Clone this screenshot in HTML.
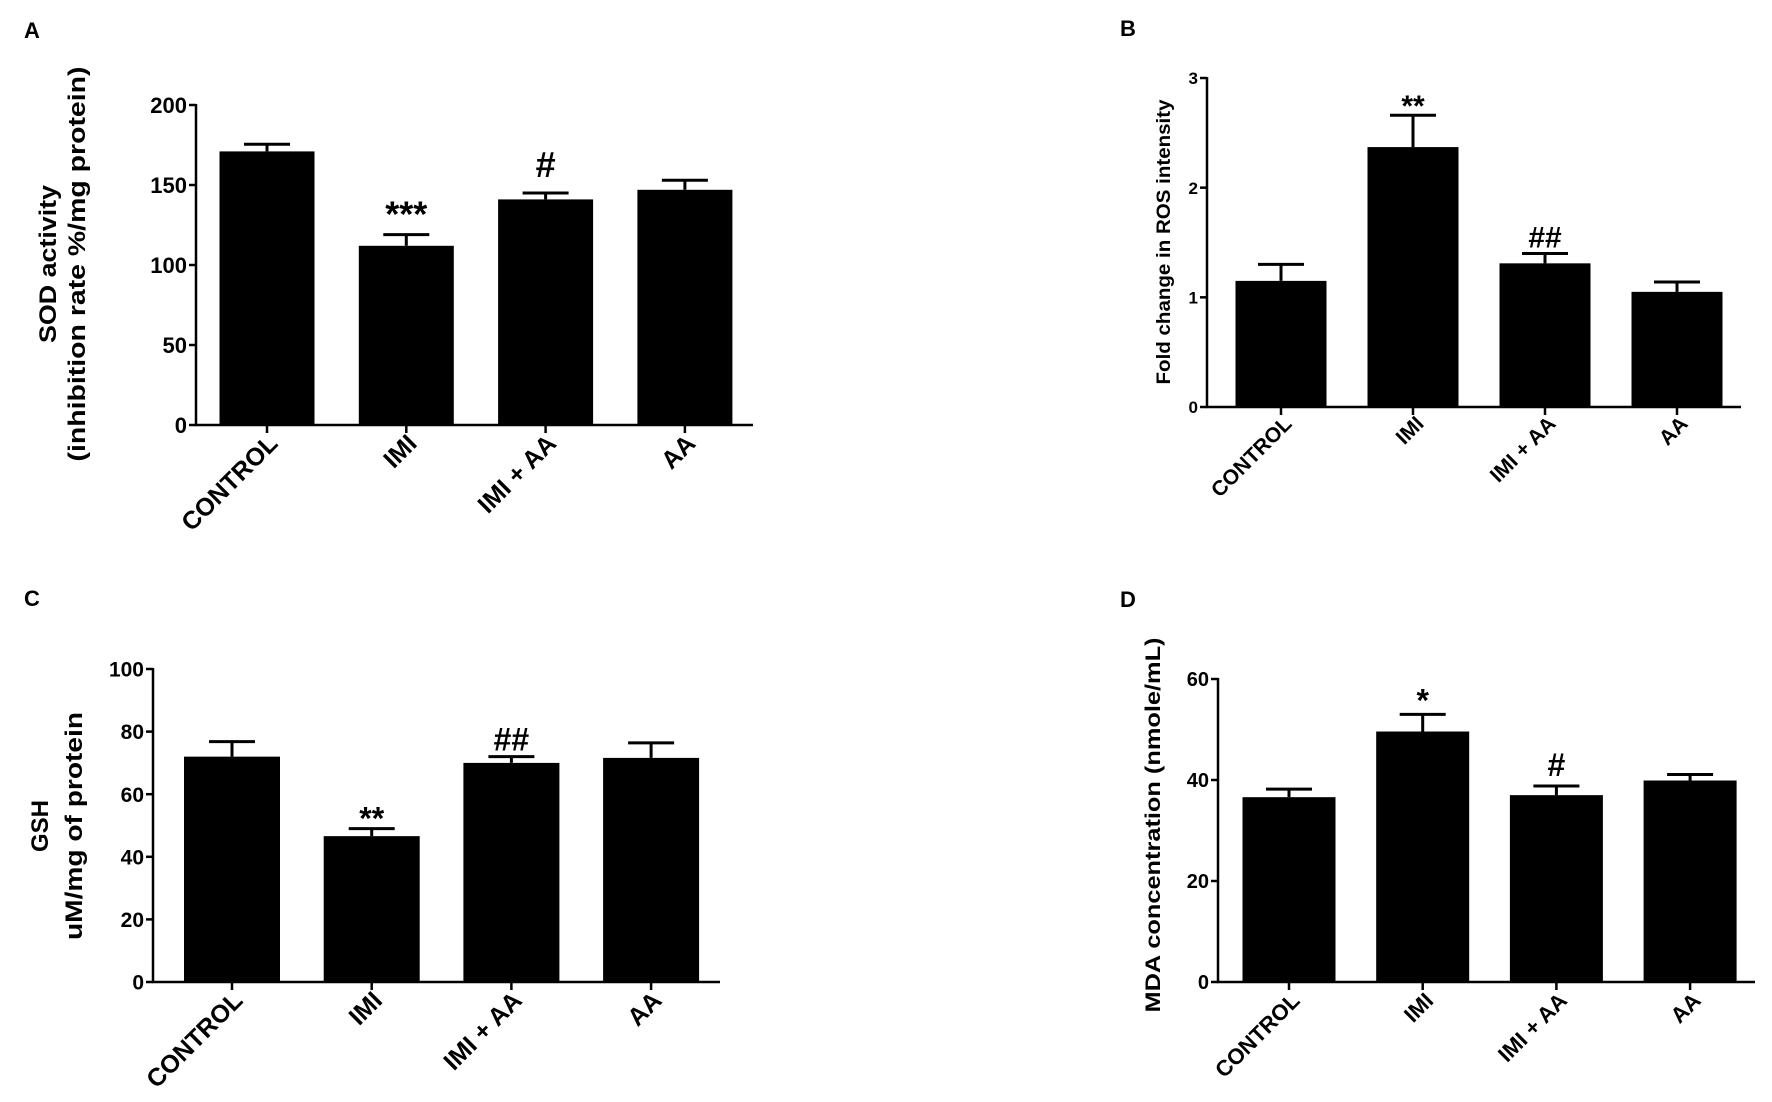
<!DOCTYPE html>
<html><head><meta charset="utf-8"><style>
html,body{margin:0;padding:0;background:#fff;overflow:hidden;}
svg{display:block;font-family:"Liberation Sans",Arial,sans-serif;font-weight:bold;}
</style></head><body>
<svg id="fig" width="1772" height="1102" viewBox="0 0 1772 1102" xmlns="http://www.w3.org/2000/svg"></svg>
<script>
const categories = ["CONTROL", "IMI", "IMI + AA", "AA"];
// Panel A: SOD
const sodValues = [171, 112, 141, 147];
const sodErrors = [4.5, 7, 4, 6];
const sodTicks = [0, 50, 100, 150, 200];
const sodMarks = ["", "***", "#", ""];
// Panel B: ROS
const rosValues = [1.15, 2.37, 1.31, 1.05];
const rosErrors = [0.15, 0.29, 0.09, 0.09];
const rosTicks = [0, 1, 2, 3];
const rosMarks = ["", "**", "##", ""];
// Panel C: GSH
const gshValues = [72, 46.6, 70, 71.6];
const gshErrors = [4.8, 2.4, 2, 4.8];
const gshTicks = [0, 20, 40, 60, 80, 100];
const gshMarks = ["", "**", "##", ""];
// Panel D: MDA
const mdaValues = [36.6, 49.6, 37, 39.9];
const mdaErrors = [1.6, 3.4, 1.8, 1.2];
const mdaTicks = [0, 20, 40, 60];
const mdaMarks = ["", "*", "#", ""];

const NS = "http://www.w3.org/2000/svg";
const svg = document.getElementById("fig");
function mk(tag, attrs, parent){
  const e = document.createElementNS(NS, tag);
  for (const k in attrs) e.setAttribute(k, attrs[k]);
  (parent || svg).appendChild(e);
  return e;
}

function panel(p){
  const g = mk("g", {});
  
  
  const ymax = p.ticks[p.ticks.length - 1];
  const y = v => p.y0 - (v / ymax) * (p.y0 - p.yTop);
  const x = i => p.xFirst + i * p.step;

  const lab = mk("text", {x: p.labX, y: p.labY, "font-size": 22}, g);
  lab.textContent = p.id.toUpperCase();
  
  

  p.values.forEach((v, i) => {
    const cx = x(i);
    const bar = mk("rect", {x: cx - p.bw / 2, y: y(v), width: p.bw, height: p.y0 - y(v), fill: "#000"}, g);
    
    
    const et = y(v + p.errors[i]);
    const eb = mk("path", {d: `M${cx},${y(v)}V${et}M${cx - 23},${et}H${cx + 23}`, stroke: "#000", "stroke-width": 3, fill: "none"}, g);
    
    
    if (p.marks[i]) {
      const isStar = p.marks[i].indexOf("*") >= 0;
      const m = mk("text", {x: cx, y: et - p.markGap + (isStar ? p.markSize * 0.22 : 0), "text-anchor": "middle", "font-size": p.markSize}, g);
      m.textContent = p.marks[i];
      
      
    }
    const tk = mk("line", {x1: cx, x2: cx, y1: p.y0, y2: p.y0 + 8, stroke: "#000", "stroke-width": 2.5}, g);
    
    
    const tl = mk("text", {x: 0, y: 0, "text-anchor": "end", "font-size": p.xfs,
      transform: `translate(${cx + 12},${p.y0 + p.xlOff}) rotate(-45)`}, g);
    tl.textContent = categories[i];
    
    
  });

  const ax = mk("path", {d: `M${p.xAxis},${p.yTop - 1}V${p.y0}H${p.xEnd}`, stroke: "#000", "stroke-width": 2.5, fill: "none"}, g);
  
  

  p.ticks.forEach(t => {
    const tk = mk("line", {x1: p.xAxis - 7, x2: p.xAxis, y1: y(t), y2: y(t), stroke: "#000", "stroke-width": 2.5}, g);
    
    
    const tl = mk("text", {x: p.xAxis - 9, y: y(t) + p.yfs * 0.36, "text-anchor": "end", "font-size": p.yfs}, g);
    tl.textContent = t;
    
    
  });

  p.titles.forEach(tt => {
    const t = mk("text", {x: 0, y: 0, "text-anchor": "middle", "font-size": p.tfs,
      transform: `translate(${tt.x},${p.titleY}) rotate(-90)`}, g);
    if (tt.len) { t.setAttribute("textLength", tt.len); t.setAttribute("lengthAdjust", "spacingAndGlyphs"); }
    t.textContent = tt.text;
    
    
  });
}

panel({id:"a", values:sodValues, errors:sodErrors, ticks:sodTicks, marks:sodMarks,
  xAxis:196, xEnd:753, yTop:105, y0:425, xFirst:267, step:139.3, bw:95,
  labX:24, labY:38, yfs:22, xfs:25, xlOff:20, tfs:24, markSize:36, markGap:16, titleY:264,
  titles:[{x:56, text:"SOD activity", len:158}, {x:85, text:"(inhibition rate %/mg protein)", len:395}]});
panel({id:"b", values:rosValues, errors:rosErrors, ticks:rosTicks, marks:rosMarks,
  xAxis:1207, xEnd:1741, yTop:78, y0:407, xFirst:1281, step:132, bw:91,
  labX:1120, labY:36, yfs:17, xfs:21, xlOff:18, tfs:19, markSize:30, markGap:6, titleY:242,
  titles:[{x:1170, text:"Fold change in ROS intensity", len:285}]});
panel({id:"c", values:gshValues, errors:gshErrors, ticks:gshTicks, marks:gshMarks,
  xAxis:153, xEnd:720, yTop:669, y0:982, xFirst:232, step:139.7, bw:96,
  labX:24, labY:606, yfs:21, xfs:25, xlOff:20, tfs:24, markSize:32, markGap:6, titleY:826,
  titles:[{x:48, text:"GSH"}, {x:82, text:"uM/mg of protein", len:228}]});
panel({id:"d", values:mdaValues, errors:mdaErrors, ticks:mdaTicks, marks:mdaMarks,
  xAxis:1218, xEnd:1755, yTop:679, y0:982, xFirst:1289, step:133.7, bw:93,
  labX:1120, labY:607, yfs:20, xfs:22, xlOff:20, tfs:21, markSize:32, markGap:10, titleY:825,
  titles:[{x:1160, text:"MDA concentration (nmole/mL)", len:375}]});
</script>
</body></html>
